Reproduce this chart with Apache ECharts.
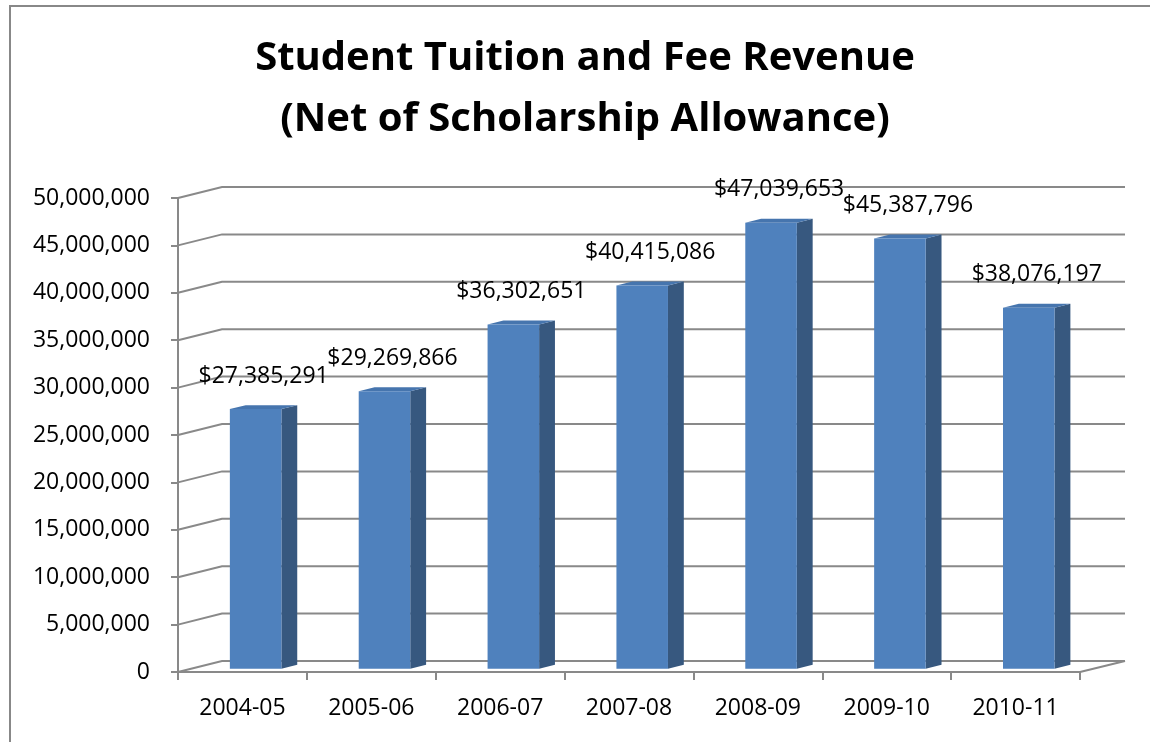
<!DOCTYPE html>
<html>
<head>
<meta charset="utf-8">
<script src="https://cdn.jsdelivr.net/npm/echarts@6/dist/echarts.min.js"></script>
<style>
html,body{margin:0;padding:0;background:#fff;}
#main{width:1150px;height:742px;}
</style>
</head>
<body>
<div id="main"></div>
<script>
// ---- data ----
const categories = ['2004-05', '2005-06', '2006-07', '2007-08', '2008-09', '2009-10', '2010-11'];
const revenue = [27385291, 29269866, 36302651, 40415086, 47039653, 45387796, 38076197];
const valueTicks = [0, 5000000, 10000000, 15000000, 20000000, 25000000, 30000000, 35000000, 40000000, 45000000, 50000000];
const titleLines = ['Student Tuition and Fee Revenue', '(Net of Scholarship Allowance)'];

// ---- styling / 3D geometry ----
const FONT = '"Open Sans", "DejaVu Sans", sans-serif';
const GRID_COLOR = '#898989';
const DEPTH_X = 44, DEPTH_Y = 11;      // full depth of the floor/back wall
const BAR_F0 = 0.30, BAR_F1 = 0.66;   // bar front / back position in depth
const BAR_W = 0.40;                   // fraction of band width
const LABEL_GAP = 33;

function commas(v) { return String(v).replace(/\B(?=(\d{3})+(?!\d))/g, ','); }

const chart = echarts.init(document.getElementById('main'), null, { renderer: 'canvas' });

const option = {
  animation: false,
  backgroundColor: '#ffffff',
  title: {
    text: titleLines.join('\n'),
    left: 585,
    top: 28,
    padding: 0,
    textAlign: 'center',
    textStyle: {
      fontFamily: FONT,
      fontWeight: 'bold',
      fontSize: 40,
      lineHeight: 61,
      color: '#000000'
    }
  },
  graphic: [{
    type: 'rect',
    shape: { x: 10, y: 6, width: 1160, height: 760 },
    style: { fill: 'none', stroke: '#888888', lineWidth: 2 },
    silent: true,
    z: -10
  }],
  grid: { left: 178, top: 198, width: 902, height: 474, containLabel: false },
  xAxis: {
    type: 'category',
    data: categories,
    boundaryGap: true,
    axisLine: { show: true, lineStyle: { color: GRID_COLOR, width: 2 } },
    axisTick: { show: true, length: 8, lineStyle: { color: GRID_COLOR, width: 2 } },
    axisLabel: { fontFamily: FONT, fontSize: 23, color: '#000000', margin: 25 },
    splitLine: { show: false }
  },
  yAxis: {
    type: 'value',
    min: 0,
    max: 50000000,
    interval: 5000000,
    axisLine: { show: true, lineStyle: { color: GRID_COLOR, width: 2 } },
    axisTick: { show: true, length: 7, lineStyle: { color: GRID_COLOR, width: 2 } },
    axisLabel: { fontFamily: FONT, fontSize: 23, color: '#000000', margin: 28, formatter: v => commas(v) },
    splitLine: { show: false }
  },
  series: [
    {
      type: 'custom',
      name: 'walls',
      silent: true,
      clip: false,
      z: 1,
      data: valueTicks.map(v => [0, v]),
      renderItem: function (params, api) {
        const cs = params.coordSys;
        const v = api.value(1);
        const y = api.coord([0, v])[1];
        const x0 = cs.x;
        const x1 = cs.x + cs.width;
        const children = [{
          type: 'polyline',
          shape: { points: [[x0, y], [x0 + DEPTH_X, y - DEPTH_Y], [x1 + DEPTH_X + 1, y - DEPTH_Y]] },
          style: { stroke: GRID_COLOR, lineWidth: 2, fill: null }
        }];
        if (v === 0) {
          children.push({
            type: 'line',
            shape: { x1: x1, y1: y, x2: x1 + DEPTH_X + 1, y2: y - DEPTH_Y },
            style: { stroke: GRID_COLOR, lineWidth: 2 }
          });
        }
        return { type: 'group', children: children };
      }
    },
    {
      type: 'custom',
      name: 'Revenue',
      clip: false,
      z: 5,
      data: revenue.map((v, i) => [i, v]),
      renderItem: function (params, api) {
        const i = api.value(0);
        const v = api.value(1);
        const top = api.coord([i, v]);
        const base = api.coord([i, 0]);
        const band = api.size([1, 0])[0];
        const w = band * BAR_W;
        const fx = BAR_F0 * DEPTH_X, fy = BAR_F0 * DEPTH_Y;
        const dx = (BAR_F1 - BAR_F0) * DEPTH_X, dy = (BAR_F1 - BAR_F0) * DEPTH_Y;
        const xl = top[0] - w / 2 + fx;
        const xr = xl + w;
        const yt = top[1] - fy;
        const yb = base[1] - fy;
        return {
          type: 'group',
          children: [
            { type: 'polygon', shape: { points: [[xr, yt], [xr + dx, yt - dy], [xr + dx, yb - dy], [xr, yb]] },
              style: { fill: '#37587F' } },
            { type: 'polygon', shape: { points: [[xl, yt], [xl + dx, yt - dy], [xr + dx, yt - dy], [xr, yt]] },
              style: { fill: '#4675AE' } },
            { type: 'rect', shape: { x: xl, y: yt, width: w, height: yb - yt },
              style: { fill: '#4F81BD' } },
            { type: 'text', z2: 10,
              style: { text: '$' + commas(v), x: xl + w / 2 + 8, y: yt - LABEL_GAP,
                       align: 'center', verticalAlign: 'middle',
                       font: '23px ' + FONT, fill: '#000000' } }
          ]
        };
      }
    }
  ]
};

chart.setOption(option);
</script>
</body>
</html>
